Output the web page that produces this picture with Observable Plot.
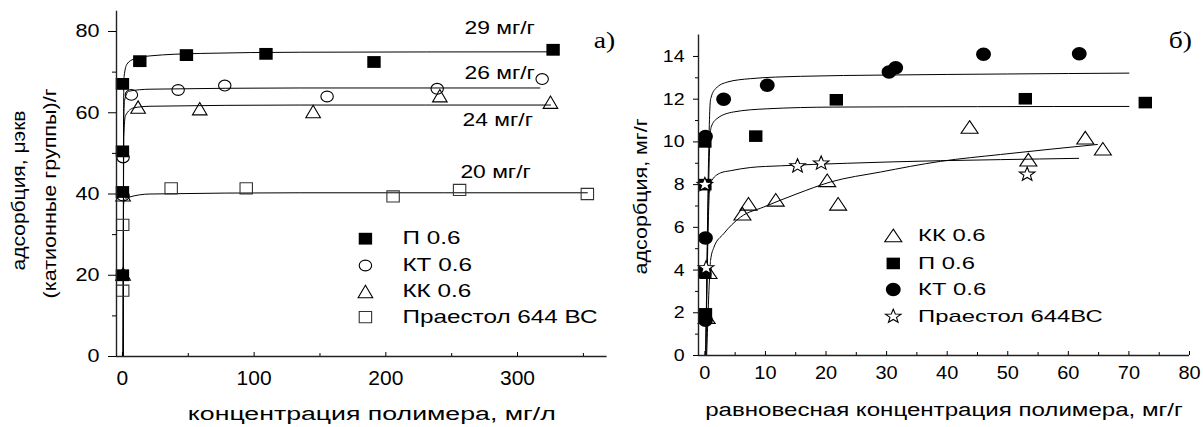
<!DOCTYPE html>
<html><head><meta charset="utf-8">
<script src="https://cdn.jsdelivr.net/npm/d3@7"></script>
<script src="https://cdn.jsdelivr.net/npm/@observablehq/plot@0.6"></script>
<style>
body{margin:0;background:#fff;}
#wrap{position:relative;width:1203px;height:427px;overflow:hidden;background:#fff;}
#wrap svg{position:absolute;left:0;top:0;}
</style></head><body><div id="wrap"></div>
<script>
// ---------- Panel а) : data ----------
const lXDomain = [-4.5, 368], lYDomain = [0, 85];
const lTicksX = [0, 100, 200, 300], lMinorX = [50, 150, 250, 350];
const lTicksY = [0, 20, 40, 60, 80], lMinorY = [10, 30, 50, 70];
const lSeriesNames = ["П 0.6", "КТ 0.6", "КК 0.6", "Праестол 644 ВС"];
const lP  = [[0,20],[0,40.5],[0,50.5],[0,67.1],[13.2,72.7],[48.6,74.2],[109,74.5],[191,72.5],[327,75.5]];
const lKT = [[0.5,39.6],[0.5,49],[6.8,64.4],[42.3,65.6],[77.7,66.7],[155.4,64],[239,65.9],[318.7,68.3]];
const lKK = [[0.5,20.3],[0.5,39.8],[11.9,61.4],[58.7,61],[144.8,60.3],[241,64.2],[325,62.6]];
const lPr = [[0.2,16.2],[0.2,32.4],[37,41.4],[94,41.4],[205.5,39.4],[256,41],[353,40]];
const lPFit  = [[0.6,0],[0.9,62],[1.3,69],[3.5,72],[8.6,73.2],[21,74],[59,74.6],[135,74.9],[327,75]];
const lKTFit = [[0.6,0],[1.0,58],[1.6,63],[4.8,65.3],[21,65.8],[135,66.1],[317,66.1]];
const lKKFit = [[0.6,0],[1.0,54],[2.3,59.3],[8.6,61.2],[21,61.6],[135,61.9],[325,61.9]];
const lPrFit = [[0.5,0],[0.9,37.5],[1.6,38.6],[4.8,39.2],[21,40],[135,40.3],[353,40.3]];
const lCapTexts = ["29 мг/г", "26 мг/г", "24 мг/г", "20 мг/г"];
const lCapX = [259.7, 259.7, 258.2, 256.6], lCapY = [80.7, 69.7, 58.1, 45.3];
const lLegX = 184.5, lLegTextX = 212.6, lLegY = [29.0, 22.4, 16.0, 9.7];
const lXTitle = "концентрация полимера, мг/л";
const lYTitle1 = "адсорбция, μэкв", lYTitle2 = "(катионные группы)/г";

// ---------- Panel б) : data ----------
const rXDomain = [-1.05, 80], rYDomain = [0, 15];
const rTicksX = [0,10,20,30,40,50,60,70,80], rMinorX = [5,15,25,35,45,55,65,75];
const rTicksY = [0,2,4,6,8,10,12,14], rMinorY = [1,3,5,7,9,11,13];
const rSeriesNames = ["КК 0.6", "П 0.6", "КТ 0.6", "Праестол 644ВС"];
const rKK = [[0.3,1.8],[0.6,3.9],[6.2,6.64],[7.2,7.1],[11.7,7.29],[20.2,8.2],[22,7.1],[43.7,10.7],[53.4,9.17],[62.8,10.2],[65.7,9.68]];
const rP  = [[0.1,1.95],[0,3.9],[0,8.0],[0,10.0],[8.4,10.27],[21.7,11.97],[52.9,12.02],[72.7,11.84]];
const rKT = [[0.1,1.65],[0.1,5.5],[0.1,10.25],[3.1,12.0],[10.3,12.65],[30.4,13.27],[31.5,13.47],[46,14.1],[61.8,14.13]];
const rPr = [[0.2,4.1],[0,8.0],[15.3,8.87],[19.2,9.0],[53.2,8.48]];
const rKTFit = [[0.15,0],[0.9,11.9],[1.05,12.1],[1.8,12.5],[3.7,12.8],[7.5,12.96],[15.8,13.07],[30,13.13],[50,13.18],[70,13.22]];
const rPFit  = [[0.15,0],[0.9,10.4],[1.05,10.7],[2.0,11.09],[4.7,11.4],[10.3,11.55],[21.2,11.63],[45,11.65],[70,11.66]];
const rPrFit = [[0.15,0],[0.8,7.9],[0.95,8.1],[2.6,8.55],[4.2,8.65],[7.5,8.8],[12.5,8.88],[23.5,9.0],[38.9,9.12],[48.8,9.17],[61.7,9.23]];
const rKKFit = [[0.3,0],[0.8,3.8],[0.94,4.45],[1.5,5.07],[3.1,5.7],[5.9,6.48],[9.7,6.95],[15.2,7.57],[20.7,8.12],[29,8.59],[38.9,9.09],[48.8,9.41],[64.8,9.88]];
const rLegX = 31.1, rLegTextX = 35.2, rLegY = [5.62, 4.31, 3.09, 1.83];
const rXTitle = "равновесная концентрация полимера, мг/г";
const rYTitle = "адсорбция, мг/г";

// ---------- symbols ----------
function rectSym(hw, hh){ return {draw(c){ c.moveTo(-hw,-hh); c.lineTo(hw,-hh); c.lineTo(hw,hh); c.lineTo(-hw,hh); c.closePath(); }}; }
function triSym(hw, hh){ return {draw(c){ c.moveTo(0,-hh); c.lineTo(hw,hh); c.lineTo(-hw,hh); c.closePath(); }}; }
function ellSym(rx, ry){ const k = 0.5523; return {draw(c){
  c.moveTo(rx,0); c.bezierCurveTo(rx,ry*k,rx*k,ry,0,ry); c.bezierCurveTo(-rx*k,ry,-rx,ry*k,-rx,0);
  c.bezierCurveTo(-rx,-ry*k,-rx*k,-ry,0,-ry); c.bezierCurveTo(rx*k,-ry,rx,-ry*k,rx,0); c.closePath(); }}; }
function starSym(R, ratio, st){ return {draw(c){ for (let i = 0; i < 10; i++){ const a = -Math.PI/2 + i*Math.PI/5; const rr = i % 2 ? R*ratio : R; const x = Math.cos(a)*rr*st, y = Math.sin(a)*rr; if (i) c.lineTo(x,y); else c.moveTo(x,y);} c.closePath(); }}; }

const W = 1203, H = 427;
const FONT = "'Liberation Sans', Arial, sans-serif";
const px = d => d[0], py = d => d[1];
const mid = {textAnchor: "middle", lineAnchor: "middle"};

// ---------- left plot ----------
const L = {mL: 116, mR: W - 606.6, mT: 10.7, mB: H - 356};
const lFH = H - L.mT - L.mB;
const lSym = [
  {sym: rectSym(6.7, 5.9), fill: "black", stroke: "none"},
  {sym: ellSym(6.2, 5.4), fill: "none", stroke: "black"},
  {sym: triSym(7.3, 6.2), fill: "none", stroke: "black"},
  {sym: rectSym(6.2, 5.6), fill: "none", stroke: "#333"}
];
const lData = [lP, lKT, lKK, lPr];
const lFits = [lPFit, lKTFit, lKKFit, lPrFit];
const lMarks = [
  ...lFits.map(f => Plot.line(f, {x: px, y: py, curve: "monotone-x", stroke: "black", strokeWidth: 1})),
  ...lData.map((d, i) => Plot.dot(d, {x: px, y: py, r: 1, symbol: lSym[i].sym, fill: lSym[i].fill, stroke: lSym[i].stroke, strokeWidth: 1.1})),
  Plot.ruleY([lYDomain[0]], {stroke: "#222", strokeWidth: 1.4}),
  Plot.ruleX([lXDomain[0]], {stroke: "#222", strokeWidth: 1.4}),
  Plot.axisY({ticks: lTicksY, tickSize: 8, tickPadding: 9, label: null, fontSize: 18}),
  Plot.axisY({ticks: lMinorY, tickSize: 4, tickFormat: () => "", label: null}),
  Plot.axisX({ticks: lTicksX, tickSize: 0, tickPadding: 14, label: null, fontSize: 20}),
  Plot.ruleX(lTicksX, {insetTop: lFH - 4, stroke: "black"}),
  Plot.ruleX(lMinorX, {insetTop: lFH - 3, stroke: "black"}),
  Plot.text(lCapTexts, {x: (d, i) => lCapX[i], y: (d, i) => lCapY[i], text: d => d, textAnchor: "start", fontSize: 18}),
  ...lSeriesNames.map((n, i) => Plot.dot([n], {x: () => lLegX, y: () => lLegY[i], r: 1, symbol: lSym[i].sym, fill: lSym[i].fill, stroke: lSym[i].stroke, strokeWidth: 1.1})),
  Plot.text(lSeriesNames, {x: () => lLegTextX, y: (d, i) => lLegY[i], text: d => d, textAnchor: "start", fontSize: 18}),
  Plot.text([lXTitle], {frameAnchor: "bottom", dx: 10, dy: 57, text: d => d, fontSize: 19, ...mid}),
  Plot.text([lYTitle1], {frameAnchor: "left", rotate: -90, dx: -97.5, dy: 6.6, text: d => d, fontSize: 18, ...mid}),
  Plot.text([lYTitle2], {frameAnchor: "left", rotate: -90, dx: -66.5, dy: 9.6, text: d => d, fontSize: 18, ...mid}),
  Plot.text(["а)"], {x: () => 366, y: () => 77.8, text: d => d, fontSize: 24, fontFamily: "'Liberation Serif', 'Times New Roman', serif"})
];
const left = Plot.plot({
  width: W, height: H, marginLeft: L.mL, marginRight: L.mR, marginTop: L.mT, marginBottom: L.mB,
  x: {domain: lXDomain}, y: {domain: lYDomain},
  style: {fontFamily: FONT, fontSize: "18px", background: "transparent", color: "black", overflow: "visible"},
  marks: lMarks
});

// ---------- right plot ----------
const R = {mL: 698, mR: W - 1189, mT: 34.6, mB: H - 355};
const rFH = H - R.mT - R.mB;
const rSym = [
  {sym: triSym(8.5, 6.3), fill: "none", stroke: "black"},
  {sym: rectSym(6.7, 5.8), fill: "black", stroke: "none"},
  {sym: ellSym(7.4, 6.7), fill: "black", stroke: "none"},
  {sym: starSym(7.3, 0.42, 1.12), fill: "white", stroke: "black"}
];
const rData = [rKK, rP, rKT, rPr];
const rFits = [rKKFit, rPFit, rKTFit, rPrFit];
const rMarks = [
  ...rFits.map(f => Plot.line(f, {x: px, y: py, curve: "monotone-x", stroke: "black", strokeWidth: 1})),
  ...rData.map((d, i) => Plot.dot(d, {x: px, y: py, r: 1, symbol: rSym[i].sym, fill: rSym[i].fill, stroke: rSym[i].stroke, strokeWidth: 1.1})),
  Plot.ruleY([rYDomain[0]], {stroke: "#222", strokeWidth: 1.4}),
  Plot.ruleX([rXDomain[0]], {stroke: "#222", strokeWidth: 1.4}),
  Plot.axisY({ticks: rTicksY, tickSize: 5, tickPadding: 9, label: null, fontSize: 17}),
  Plot.axisY({ticks: rMinorY, tickSize: 3, tickFormat: () => "", label: null}),
  Plot.axisX({ticks: rTicksX, tickSize: 0, tickPadding: 10, label: null, fontSize: 19}),
  Plot.ruleX(rTicksX, {insetTop: rFH - 4, stroke: "black"}),
  Plot.ruleX(rMinorX, {insetTop: rFH - 3, stroke: "black"}),
  ...rSeriesNames.map((n, i) => Plot.dot([n], {x: () => rLegX, y: () => rLegY[i], r: 1, symbol: rSym[i].sym, fill: rSym[i].fill, stroke: rSym[i].stroke, strokeWidth: 1.1})),
  Plot.text(rSeriesNames, {x: () => rLegTextX, y: (d, i) => rLegY[i], text: d => d, textAnchor: "start", fontSize: 17}),
  Plot.text([rXTitle], {frameAnchor: "bottom", dy: 54, text: d => d, fontSize: 19, ...mid}),
  Plot.text([rYTitle], {frameAnchor: "left", rotate: -90, dx: -57, dy: 1.2, text: d => d, fontSize: 18, ...mid}),
  Plot.text(["б)"], {x: () => 78.5, y: () => 14.75, text: d => d, fontSize: 24, fontFamily: "'Liberation Serif', 'Times New Roman', serif"})
];
const right = Plot.plot({
  width: W, height: H, marginLeft: R.mL, marginRight: R.mR, marginTop: R.mT, marginBottom: R.mB,
  x: {domain: rXDomain}, y: {domain: rYDomain},
  style: {fontFamily: FONT, fontSize: "17px", background: "transparent", color: "black", overflow: "visible"},
  marks: rMarks
});

const wrap = document.getElementById("wrap");
wrap.appendChild(left);
wrap.appendChild(right);

// horizontal glyph stretch (about each text's own anchor point) to mimic the reference typography
function stretchEl(t, s) {
  const x = parseFloat(t.getAttribute("x")) || 0;
  const y = parseFloat(t.getAttribute("y")) || 0;
  const tr = t.getAttribute("transform") || "";
  t.setAttribute("transform", `${tr} translate(${x},${y}) scale(${s},1) translate(${-x},${-y})`);
}
const targetWidth = new Map([
  [lXTitle, 368], [rXTitle, 478], [lYTitle1, 160], [lYTitle2, 210], [rYTitle, 156]
]);
function stretchAll(svg, opts) {
  svg.querySelectorAll("text").forEach(t => {
    const s = t.textContent;
    if (!s) return;
    let f;
    if (targetWidth.has(s)) {
      let len = 0;
      try { len = t.getComputedTextLength(); } catch (e) {}
      f = len > 0 ? targetWidth.get(s) / len : 1.3;
    } else if (/^[-−\d.]+$/.test(s)) {
      const g = t.closest("g");
      const lab = g ? (g.getAttribute("aria-label") || "") : "";
      f = lab.startsWith("x") ? opts.xtick : opts.ytick;
    } else if (lCapTexts.includes(s)) f = 1.27;
    else if (lSeriesNames.includes(s) || rSeriesNames.includes(s)) f = opts.legend;
    else f = 1.15;
    stretchEl(t, f);
  });
}
stretchAll(left, {xtick: 1.05, ytick: 1.2, legend: 1.35});
stretchAll(right, {xtick: 1.05, ytick: 1.15, legend: 1.4});
</script></body></html>
